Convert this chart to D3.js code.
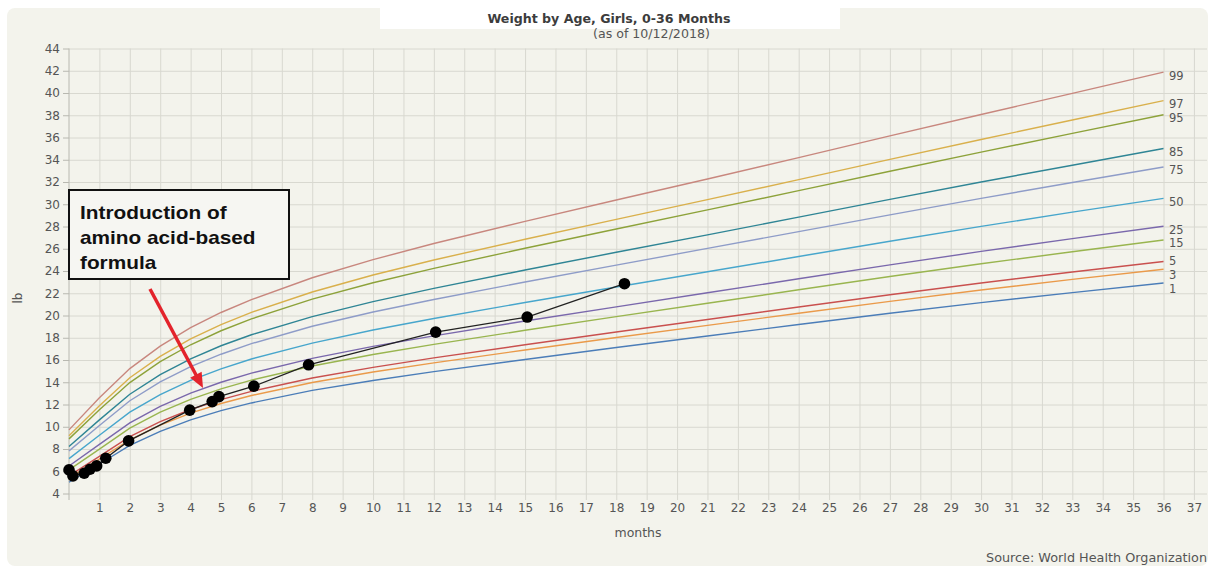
<!DOCTYPE html>
<html>
<head>
<meta charset="utf-8">
<script src="https://cdn.jsdelivr.net/npm/d3@7"></script>
<style>
  html, body { margin: 0; padding: 0; background: #ffffff; }
  svg { display: block; }
  text { font-family: "DejaVu Sans", Verdana, sans-serif; }
</style>
</head>
<body>
<svg id="chart" width="1216" height="567"></svg>
<script>
// ---------------- DATA ----------------
const months = [0, 1, 2, 3, 4, 5, 6, 8, 10, 12, 15, 18, 21, 24, 27, 30, 33, 36];
const percentileNames = ["99", "97", "95", "85", "75", "50", "25", "15", "5", "3", "1"];
const p99 = [9.72, 12.60, 15.23, 17.25, 18.90, 20.27, 21.43, 23.39, 25.02, 26.47, 28.46, 30.38, 32.27, 34.19, 36.14, 38.07, 39.97, 41.88];
const p97 = [9.19, 11.88, 14.40, 16.32, 17.89, 19.18, 20.28, 22.11, 23.64, 24.99, 26.85, 28.64, 30.42, 32.21, 34.03, 35.82, 37.57, 39.32];
const p95 = [8.91, 11.52, 13.97, 15.85, 17.37, 18.63, 19.69, 21.47, 22.94, 24.24, 26.04, 27.77, 29.49, 31.22, 32.97, 34.69, 36.37, 38.05];
const p85 = [8.22, 10.62, 12.92, 14.68, 16.10, 17.28, 18.27, 19.90, 21.25, 22.44, 24.09, 25.68, 27.25, 28.84, 30.44, 32.00, 33.51, 35.01];
const p75 = [7.83, 10.12, 12.34, 14.03, 15.40, 16.52, 17.47, 19.03, 20.31, 21.44, 23.01, 24.53, 26.03, 27.54, 29.05, 30.53, 31.95, 33.35];
const p50 = [7.13, 9.23, 11.31, 12.89, 14.16, 15.21, 16.09, 17.52, 18.70, 19.73, 21.17, 22.56, 23.93, 25.30, 26.68, 28.01, 29.29, 30.53];
const p25 = [6.47, 8.41, 10.35, 11.83, 13.03, 14.00, 14.82, 16.15, 17.23, 18.17, 19.50, 20.78, 22.04, 23.30, 24.55, 25.76, 26.91, 28.02];
const p15 = [6.13, 7.99, 9.87, 11.31, 12.46, 13.40, 14.19, 15.46, 16.49, 17.40, 18.67, 19.90, 21.10, 22.31, 23.50, 24.65, 25.73, 26.79];
const p5  = [5.58, 7.33, 9.11, 10.46, 11.55, 12.44, 13.18, 14.38, 15.34, 16.19, 17.37, 18.52, 19.64, 20.76, 21.86, 22.92, 23.91, 24.86];
const p3  = [5.38, 7.09, 8.83, 10.15, 11.22, 12.09, 12.81, 13.98, 14.92, 15.74, 16.90, 18.02, 19.11, 20.20, 21.27, 22.29, 23.25, 24.16];
const p1  = [5.01, 6.65, 8.32, 9.59, 10.62, 11.45, 12.14, 13.27, 14.16, 14.95, 16.05, 17.12, 18.16, 19.19, 20.20, 21.16, 22.06, 22.92];

const patientMonths  = [0, 0.13, 0.5, 0.69, 0.91, 1.21, 1.96, 3.97, 4.71, 4.93, 6.08, 7.88, 12.06, 15.07, 18.27];
const patientWeights = [6.12, 5.58, 5.82, 6.18, 6.48, 7.17, 8.73, 11.49, 12.26, 12.71, 13.65, 15.57, 18.51, 19.86, 22.86];

const xTicks = d3.range(1, 38);          // 1..37
const yTicks = d3.range(4, 46, 2);       // 4..44

const titleText = "Weight by Age, Girls, 0-36 Months";
const subtitleText = "(as of 10/12/2018)";
const xLabel = "months";
const yLabel = "lb";
const sourceText = "Source: World Health Organization";
const noteLines = ["Introduction of", "amino acid-based", "formula"];

// ---------------- STYLE ----------------
const colors = {
  "99": "#c8877e", "97": "#d9b04c", "95": "#8da23a", "85": "#2f8595",
  "75": "#8e9cc8", "50": "#47a6cc", "25": "#7a68ac", "15": "#99b54f",
  "5": "#c9504e", "3": "#ea9a4a", "1": "#4b7db8"
};
// small vertical nudges for the end labels (5, 3 and 1 sit close together)
const labelNudge = { "5": 0, "3": 6, "1": 6 };
const seriesValues = [p99, p97, p95, p85, p75, p50, p25, p15, p5, p3, p1];

const svg = d3.select("#chart");
const W = 1216, H = 567;
const plotLeft = 69, plotRight = 1207, plotTop = 48.5, plotBottom = 493.5;

// panel
svg.append("rect").attr("x", 0).attr("y", 0).attr("width", W).attr("height", H).attr("fill", "#ffffff");
svg.append("rect").attr("x", 7).attr("y", 8).attr("width", 1201).attr("height", 558)
  .attr("rx", 8).attr("fill", "#f3f3ec");
// redacted white band behind the title
svg.append("rect").attr("x", 380).attr("y", 0).attr("width", 460).attr("height", 29).attr("fill", "#ffffff");

const x = d3.scaleLinear().domain([0, 37.43]).range([plotLeft, plotRight]);
const y = d3.scaleLinear().domain([4, 44]).range([plotBottom, plotTop]);

// horizontal grid
const gGridY = svg.append("g").attr("transform", `translate(${plotLeft},0)`)
  .call(d3.axisLeft(y).tickValues(yTicks).tickSize(-(plotRight - plotLeft)).tickFormat(""));
gGridY.select(".domain").remove();
gGridY.selectAll("line").attr("stroke", "#d8d8d0").attr("stroke-width", 1);

// vertical grid + x labels
const gX = svg.append("g").attr("transform", `translate(0,500)`)
  .call(d3.axisBottom(x).tickValues(xTicks).tickSize(-(500 - plotTop)).tickPadding(3).tickFormat(d3.format("d")));
gX.select(".domain").remove();
gX.selectAll("line").attr("stroke", "#d8d8d0").attr("stroke-width", 1);
gX.selectAll("text").attr("fill", "#555").style("font-size", "12px")
  .style("font-family", '"DejaVu Sans", Verdana, sans-serif');

// y axis
const gY = svg.append("g").attr("transform", `translate(${plotLeft},0)`)
  .call(d3.axisLeft(y).tickValues(yTicks).tickSize(6).tickPadding(3).tickFormat(d3.format("d")));
gY.select(".domain").attr("stroke", "#b8b8b0").attr("d", `M0,${plotTop}V500`);
gY.selectAll("line").attr("stroke", "#b8b8b0");
gY.selectAll("text").attr("fill", "#555").style("font-size", "12px")
  .style("font-family", '"DejaVu Sans", Verdana, sans-serif');

// percentile curves
const line = d3.line().x(d => x(d[0])).y(d => y(d[1]));
percentileNames.forEach((name, i) => {
  const pts = months.map((m, j) => [m, seriesValues[i][j]]);
  svg.append("path").datum(pts).attr("d", line)
    .attr("fill", "none").attr("stroke", colors[name]).attr("stroke-width", 1.4);
  const nudge = labelNudge[name] !== undefined ? labelNudge[name] : 4;
  svg.append("text").attr("x", 1169).attr("y", y(seriesValues[i][months.length - 1]) + nudge)
    .attr("dominant-baseline", "middle").attr("fill", "#555").style("font-size", "11.5px").text(name);
});

// patient line and points
const patient = patientMonths.map((m, i) => [m, patientWeights[i]]);
svg.append("path").datum(patient).attr("d", line)
  .attr("fill", "none").attr("stroke", "#222").attr("stroke-width", 1.3);
svg.selectAll("circle.pt").data(patient).enter().append("circle")
  .attr("class", "pt").attr("cx", d => x(d[0])).attr("cy", d => y(d[1])).attr("r", 5.8).attr("fill", "#000");

// titles
svg.append("text").attr("x", 609).attr("y", 23).attr("text-anchor", "middle")
  .attr("fill", "#3c3c3c").style("font-size", "12.6px").style("font-weight", "bold").text(titleText);
svg.append("text").attr("x", 593).attr("y", 38).attr("text-anchor", "start")
  .attr("fill", "#555").style("font-size", "12.6px").text(subtitleText);

svg.append("text").attr("x", 638).attr("y", 537).attr("text-anchor", "middle")
  .attr("fill", "#555").style("font-size", "12.5px").text(xLabel);
svg.append("text").attr("transform", "translate(22,298) rotate(-90)").attr("text-anchor", "middle")
  .attr("fill", "#555").style("font-size", "12px").text(yLabel);
svg.append("text").attr("x", 1207).attr("y", 562).attr("text-anchor", "end")
  .attr("fill", "#555").style("font-size", "12.8px").text(sourceText);

// annotation box
svg.append("rect").attr("x", 69).attr("y", 190).attr("width", 220).attr("height", 89)
  .attr("fill", "#f6f6f2").attr("stroke", "#111").attr("stroke-width", 2);
const noteG = svg.append("g");
noteLines.forEach((t, i) => {
  noteG.append("text").attr("transform", `translate(80,${219 + i * 25}) scale(1,0.88)`)
    .style("font-family", '"Liberation Sans", Arial, sans-serif')
    .style("font-weight", "bold").style("font-size", "20.8px").attr("fill", "#111").text(t);
});

// red arrow
const ax0 = 150, ay0 = 289, ax1 = 203, ay1 = 388;
const len = Math.hypot(ax1 - ax0, ay1 - ay0), ux = (ax1 - ax0) / len, uy = (ay1 - ay0) / len;
const hl = 15, hw = 6.5;
svg.append("line").attr("x1", ax0).attr("y1", ay0).attr("x2", ax1 - ux * (hl - 2)).attr("y2", ay1 - uy * (hl - 2))
  .attr("stroke", "#e3232b").attr("stroke-width", 3.5);
const bx = ax1 - ux * hl, by = ay1 - uy * hl;
svg.append("path").attr("d", `M${ax1},${ay1}L${bx - uy * hw},${by + ux * hw}L${bx + uy * hw},${by - ux * hw}Z`)
  .attr("fill", "#e3232b");
</script>
</body>
</html>
